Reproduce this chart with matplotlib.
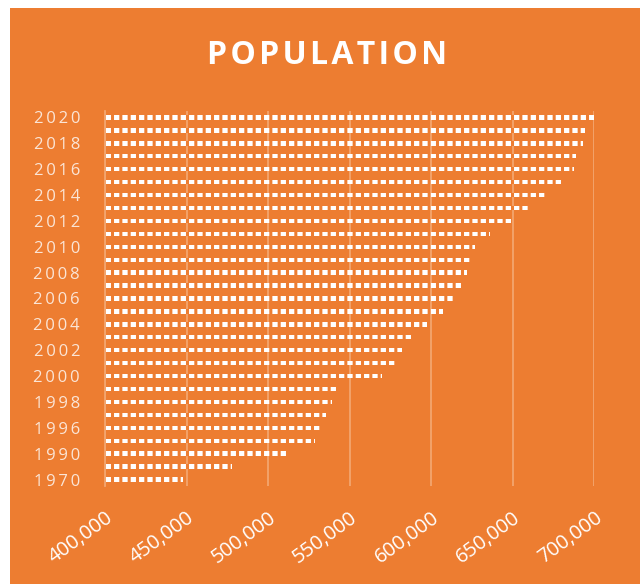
import numpy as np
import matplotlib
matplotlib.use("Agg")
import matplotlib.pyplot as plt
from matplotlib.patches import Rectangle

years = ['1970', '1980', '1990', '1995', '1996', '1997', '1998', '1999',
         '2000', '2001', '2002', '2003', '2004', '2005', '2006', '2007',
         '2008', '2009', '2010', '2011', '2012', '2013', '2014', '2015',
         '2016', '2017', '2018', '2019', '2020']
population = [448000, 477700, 510900, 528800, 532300, 535600, 539000, 542300,
              569800, 579000, 582400, 588500, 597500, 607400, 614300, 620400,
              622100, 624300, 626800, 635800, 649500, 660500, 670400, 681200,
              687700, 689000, 693000, 694500, 699600]
xticks = [400000, 450000, 500000, 550000, 600000, 650000, 700000]

orange = '#ED7D31'
grid_col = '#F3A56F'
label_col = '#FBE5D6'
thin = '\u2009'
hair = '\u200a'

plt.rcParams['font.family'] = ['Open Sans', 'DejaVu Sans']
plt.rcParams['hatch.linewidth'] = 2.2

fig = plt.figure(figsize=(6.4, 5.84), dpi=100)
fig.patch.set_facecolor('white')
fig.patches.append(Rectangle((10 / 640, 0), 630 / 640, 576 / 584,
                             transform=fig.transFigure, facecolor=orange,
                             edgecolor='none', zorder=-10))

ax = fig.add_axes([105 / 640, 1 - 486 / 584, 489.3 / 640, 375 / 584])
ax.set_facecolor('none')

pos = np.arange(len(years))
ax.barh(pos, np.array(population) - 400000, left=400000, height=0.34,
        color='white', edgecolor=orange, linewidth=0, hatch='||', zorder=3)

ax.set_xlim(400000, 700000)
ax.set_ylim(-0.5, len(years) - 0.5)
ax.set_xticks(xticks)
ax.set_xticklabels([f'{v:,}' for v in xticks], rotation=36, ha='right',
                   rotation_mode='anchor', color='white', fontsize=14.5)
ax.set_yticks(pos[::2])
ax.set_yticklabels([thin.join(y) for y in years[::2]], color=label_col,
                   fontsize=12)
ax.tick_params(axis='both', length=0)
ax.tick_params(axis='x', pad=16)
ax.tick_params(axis='y', pad=18)

ax.grid(axis='x', color=grid_col, linewidth=1.3, zorder=1)
for s in ['top', 'right', 'bottom']:
    ax.spines[s].set_visible(False)
ax.spines['left'].set_color(grid_col)
ax.spines['left'].set_linewidth(1.3)

fig.text(327 / 640, 1 - 56 / 584, hair.join('POPULATION'), ha='center',
         va='center', color='white', fontsize=23, fontweight='bold')

fig.savefig('out.png', dpi=100)
